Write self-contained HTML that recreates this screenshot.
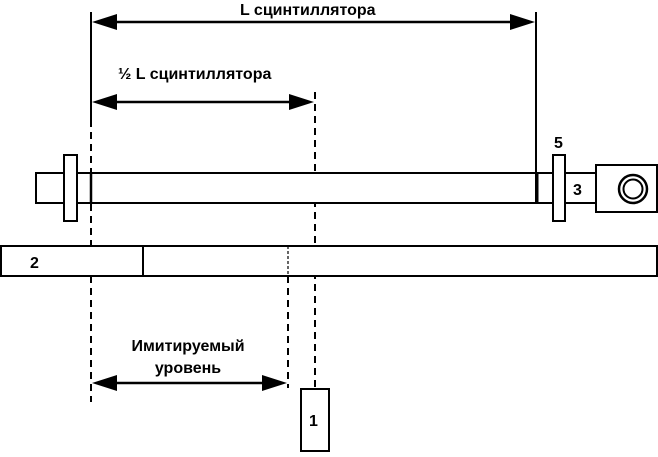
<!DOCTYPE html>
<html><head><meta charset="utf-8"><style>
html,body{margin:0;padding:0;background:#fff;}
svg{display:block;}
text{font-family:"Liberation Sans","DejaVu Sans",sans-serif;font-weight:bold;fill:#000;}
</style></head><body>
<svg width="658" height="457" viewBox="0 0 658 457" xmlns="http://www.w3.org/2000/svg">
<g stroke="#000" fill="none" stroke-width="2">
<!-- vertical lines -->
<line x1="91" y1="12" x2="91" y2="120"/>
<line x1="91" y1="120" x2="91" y2="402" stroke-dasharray="7,5"/>
<line x1="315" y1="92" x2="315" y2="389" stroke-dasharray="7,5"/>
<line x1="288" y1="276" x2="288" y2="388" stroke-dasharray="7,5"/>
<!-- tube -->
<rect x="36" y="173" width="561" height="30" fill="#fff"/>
<line x1="91" y1="173" x2="91" y2="203" stroke-width="2.5"/>
<!-- left flange -->
<rect x="64" y="155" width="13" height="66" fill="#fff"/>
<!-- right flange 5 -->
<rect x="553" y="155" width="12" height="66" fill="#fff"/>
<!-- box 3 -->
<rect x="596" y="165" width="61" height="47" fill="#fff"/>
<circle cx="633" cy="189" r="14" stroke-width="2.5"/>
<circle cx="633" cy="189" r="9.5" stroke-width="2"/>
<!-- bottom bar -->
<rect x="1" y="246" width="656" height="30" fill="#fff"/>
<line x1="143" y1="246" x2="143" y2="276"/>
<line x1="288" y1="246" x2="288" y2="276" stroke-width="1.2" stroke-dasharray="3,2"/>
<!-- box 1 -->
<rect x="301" y="389" width="28" height="62" fill="#fff"/>
<line x1="536" y1="12" x2="536" y2="203"/>
<line x1="537" y1="173" x2="537" y2="203" stroke-width="3"/>
<!-- arrow lines -->
<line x1="110" y1="22" x2="515" y2="22" stroke-width="2.5"/>
<line x1="110" y1="102" x2="295" y2="102" stroke-width="2.5"/>
<line x1="110" y1="383" x2="268" y2="383" stroke-width="2.5"/>
</g>
<g fill="#000">
<polygon points="92,22 117,14 117,30"/>
<polygon points="535,22 510,14 510,30"/>
<polygon points="92,102 117,94 117,110"/>
<polygon points="314,102 289,94 289,110"/>
<polygon points="92,383 117,375 117,391"/>
<polygon points="287,383 262,375 262,391"/>
</g>
<text x="240" y="15" font-size="16">L сцинтиллятора</text>
<text x="118" y="79" font-size="16">½ L сцинтиллятора</text>
<text x="188" y="351" font-size="16" text-anchor="middle">Имитируемый</text>
<text x="188" y="373" font-size="16" text-anchor="middle">уровень</text>
<text x="554" y="148" font-size="16">5</text>
<text x="573" y="195" font-size="16">3</text>
<text x="30" y="268" font-size="16">2</text>
<text x="309" y="426" font-size="16">1</text>
</svg>
</body></html>
